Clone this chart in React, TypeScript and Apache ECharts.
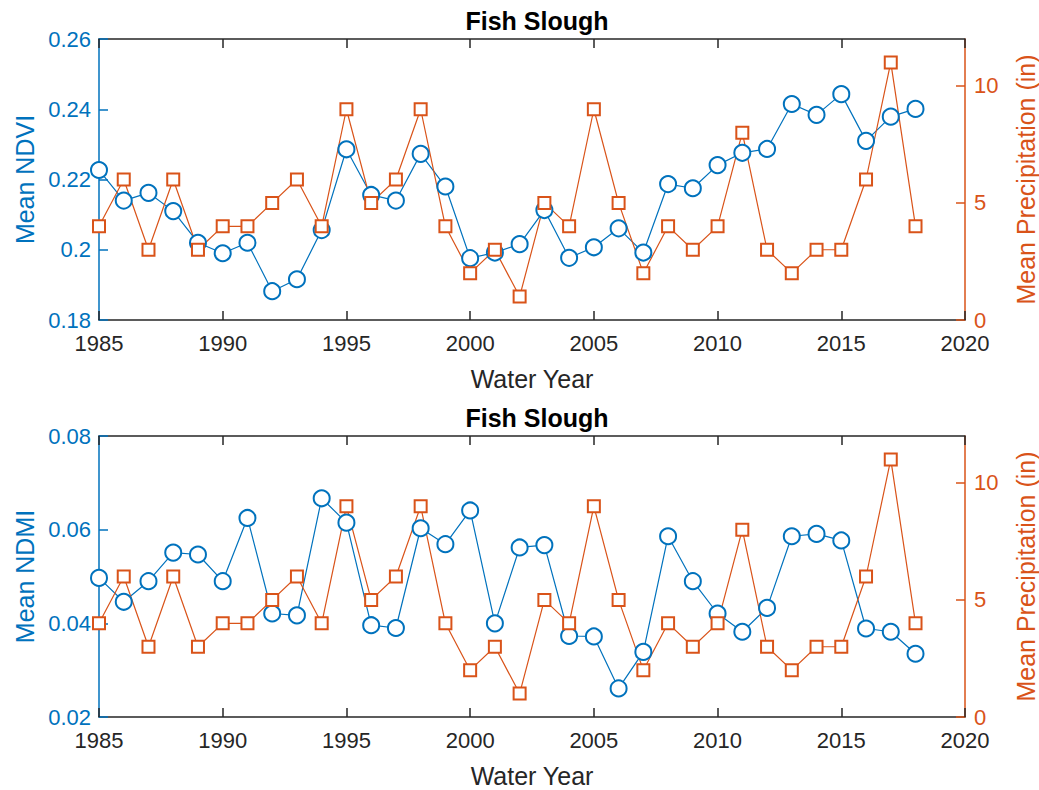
import React, { useEffect, useRef } from "react";
import * as echarts from "echarts";

const years = [1985,1986,1987,1988,1989,1990,1991,1992,1993,1994,1995,1996,1997,1998,1999,2000,2001,2002,2003,2004,2005,2006,2007,2008,2009,2010,2011,2012,2013,2014,2015,2016,2017,2018];
const precip = [4,6,3,6,3,4,4,5,6,4,9,5,6,9,4,2,3,1,5,4,9,5,2,4,3,4,8,3,2,3,3,6,11,4];
const ndvi = [0.2227,0.2140,0.2162,0.2110,0.2020,0.1990,0.2020,0.1882,0.1916,0.2056,0.2286,0.2156,0.2140,0.2273,0.2180,0.1976,0.1992,0.2016,0.2113,0.1977,0.2007,0.2061,0.1992,0.2187,0.2175,0.2241,0.2276,0.2287,0.2415,0.2384,0.2443,0.2310,0.2379,0.2401];
const ndmi = [0.0497,0.0446,0.0490,0.0551,0.0547,0.0490,0.0625,0.0421,0.0417,0.0667,0.0615,0.0396,0.0390,0.0603,0.0569,0.0641,0.0400,0.0562,0.0567,0.0373,0.0372,0.0261,0.0339,0.0586,0.0490,0.0421,0.0382,0.0433,0.0586,0.0591,0.0577,0.0389,0.0382,0.0335];
const xTicks = [1985, 1990, 1995, 2000, 2005, 2010, 2015, 2020];
const precipTicks = [0, 5, 10];

const BLUE = "#0072BD";
const ORANGE = "#D95319";
const GRAY = "#262626";
const FONT = "Liberation Sans, Arial, sans-serif";

export default function App() {
  const ref = useRef<HTMLDivElement>(null);
  useEffect(() => {
    if (!ref.current) return;
    const chart = echarts.init(ref.current, null, { renderer: "svg" });
    const grids = [
      { left: 99, top: 39, width: 866, height: 281, containLabel: false, outerBoundsMode: "none" },
      { left: 99, top: 436, width: 866, height: 281, containLabel: false, outerBoundsMode: "none" },
    ];
    const xBottom = (gi: number) => ({
      type: "value", gridIndex: gi, min: 1985, max: 2020, interval: 5, position: "bottom",
      name: "Water Year", nameLocation: "middle", nameGap: 46,
      nameTextStyle: { color: GRAY, fontSize: 25, fontFamily: FONT },
      axisLine: { show: true, onZero: false, lineStyle: { color: GRAY, width: 1.5 } },
      axisTick: { show: true, inside: true, length: 9, lineStyle: { color: GRAY, width: 1.5 } },
      axisLabel: { show: true, color: GRAY, fontSize: 22, fontFamily: FONT, margin: 12, customValues: xTicks, formatter: (v: number) => String(v) },
      splitLine: { show: false },
    });
    const xTop = (gi: number) => ({
      type: "value", gridIndex: gi, min: 1985, max: 2020, interval: 5, position: "top",
      axisLine: { show: true, onZero: false, lineStyle: { color: GRAY, width: 1.5 } },
      axisTick: { show: true, inside: true, length: 9, lineStyle: { color: GRAY, width: 1.5 } },
      axisLabel: { show: false },
      splitLine: { show: false },
    });
    const yLeft = (gi: number, min: number, max: number, name: string) => ({
      type: "value", gridIndex: gi, min, max, interval: 0.02, position: "left",
      name, nameLocation: "middle", nameGap: 62,
      nameTextStyle: { color: BLUE, fontSize: 25, fontFamily: FONT },
      axisLine: { show: true, onZero: false, lineStyle: { color: BLUE, width: 1.5 } },
      axisTick: { show: true, inside: true, length: 9, lineStyle: { color: BLUE, width: 1.5 } },
      axisLabel: { color: BLUE, fontSize: 22, fontFamily: FONT, margin: 8 },
      splitLine: { show: false },
    });
    const yRight = (gi: number) => ({
      type: "value", gridIndex: gi, min: 0, max: 12, position: "right",
      name: "Mean Precipitation (in)", nameLocation: "middle", nameGap: 48,
      nameTextStyle: { color: ORANGE, fontSize: 25, fontFamily: FONT },
      axisLine: { show: true, onZero: false, lineStyle: { color: ORANGE, width: 1.5 } },
      axisTick: { show: true, inside: true, length: 9, customValues: precipTicks, lineStyle: { color: ORANGE, width: 1.5 } },
      axisLabel: { color: ORANGE, fontSize: 22, fontFamily: FONT, margin: 9, customValues: precipTicks },
      splitLine: { show: false },
    });
    const circleSeries = (xi: number, yi: number, vals: number[]) => ({
      type: "line", xAxisIndex: xi, yAxisIndex: yi,
      data: years.map((y, i) => [y, vals[i]]),
      symbol: "emptyCircle", symbolSize: 16,
      itemStyle: { color: BLUE, borderWidth: 1.3 },
      lineStyle: { color: BLUE, width: 1.2 },
      clip: false,
    });
    const rectSeries = (xi: number, yi: number) => ({
      type: "line", xAxisIndex: xi, yAxisIndex: yi,
      data: years.map((y, i) => [y, precip[i]]),
      symbol: "emptyRect", symbolSize: 12,
      itemStyle: { color: ORANGE, borderWidth: 1.3 },
      lineStyle: { color: ORANGE, width: 1.2 },
      clip: false,
    });
    const titleStyle = { fontSize: 25, fontWeight: "bold", color: "#000", fontFamily: FONT };
    chart.setOption({
      animation: false,
      backgroundColor: "#fff",
      title: [
        { text: "Fish Slough", left: 532, top: 3, textAlign: "center", textStyle: titleStyle },
        { text: "Fish Slough", left: 532, top: 400, textAlign: "center", textStyle: titleStyle },
      ],
      grid: grids,
      xAxis: [xBottom(0), xTop(0), xBottom(1), xTop(1)],
      yAxis: [yLeft(0, 0.18, 0.26, "Mean NDVI"), yRight(0), yLeft(1, 0.02, 0.08, "Mean NDMI"), yRight(1)],
      series: [circleSeries(0, 0, ndvi), rectSeries(0, 1), circleSeries(2, 2, ndmi), rectSeries(2, 3)],
    });
    return () => chart.dispose();
  }, []);
  return <div ref={ref} style={{ position: "fixed", left: 0, top: 0, width: 1039, height: 790, background: "#fff" }} />;
}
